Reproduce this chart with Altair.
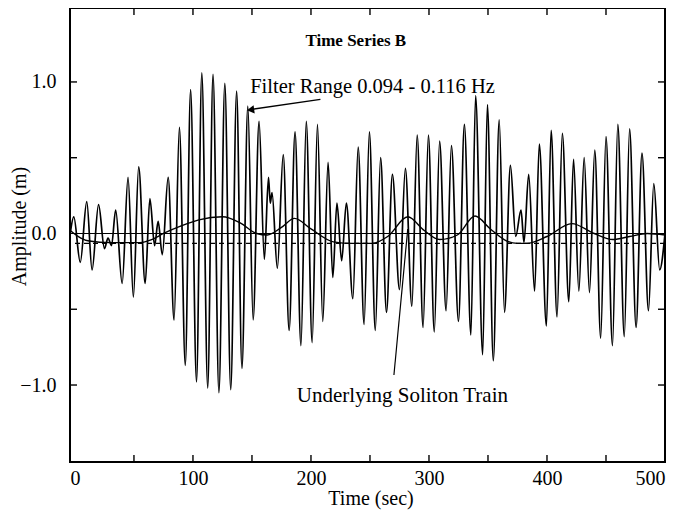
import altair as alt
import pandas as pd

# ---- data ----
# filtered wave record: successive extrema (time s, amplitude m)
wave_t = [-4, -1, 4.5, 10, 14.5, 20, 25, 28, 31, 34.5, 40, 45, 49.5, 54, 59.5, 63.5, 67.5, 70.5,
          74, 79, 84, 88.5, 93.5, 98, 103, 107.5, 112.5, 117, 122, 127, 132, 137, 141.5, 146.5,
          151, 156, 160.5, 164, 165.5, 167, 171.5, 176.5, 181.5, 186.5, 191.5, 196, 201, 205.5,
          210, 214.5, 218.5, 222, 226, 230, 235.5, 240, 245, 249.5, 254.5, 259, 264, 269, 275,
          280, 285.5, 290, 295, 299.5, 304.5, 309, 314.5, 319, 325, 330, 335.5, 339.5, 345.5,
          349.5, 354.5, 359.5, 364, 369, 373.5, 378, 380.5, 384.5, 389.5, 393.5, 399.5, 403.5,
          408.5, 413, 418.5, 422.5, 427, 431.5, 436, 440.5, 445.5, 450, 455.5, 460, 465.5, 470,
          475.5, 480.5, 486, 490.5, 495.5, 500]
wave_v = [0.0, 0.11, -0.19, 0.21, -0.24, 0.19, -0.10, -0.03, -0.08, 0.155, -0.33, 0.37, -0.42, 0.44,
          -0.33, 0.23, -0.08, 0.08, -0.14, 0.37, -0.57, 0.70, -0.87, 0.95, -0.98, 1.06, -1.02,
          1.05, -1.05, 0.99, -1.03, 0.94, -0.89, 0.84, -0.57, 0.74, -0.17, 0.37, 0.20, 0.27,
          -0.23, 0.52, -0.64, 0.67, -0.74, 0.74, -0.72, 0.72, -0.58, 0.47, -0.29, 0.20, -0.18,
          0.20, -0.43, 0.57, -0.60, 0.67, -0.64, 0.50, -0.52, 0.39, -0.37, 0.43, -0.48, 0.65,
          -0.62, 0.65, -0.65, 0.61, -0.51, 0.58, -0.58, 0.72, -0.67, 0.91, -0.80, 0.85, -0.84,
          0.75, -0.52, 0.45, -0.02, 0.155, -0.06, 0.39, -0.38, 0.59, -0.61, 0.68, -0.55, 0.66,
          -0.45, 0.49, -0.38, 0.50, -0.39, 0.55, -0.69, 0.64, -0.74, 0.72, -0.68, 0.69, -0.62,
          0.53, -0.51, 0.33, -0.24, 0.0]

# underlying soliton train
sol_t = [-4, 5, 12, 30, 55, 65, 75, 90, 105, 125, 140, 154, 163, 175, 186, 200, 219, 235, 252,
         265, 282, 296, 309, 324, 339, 352, 366, 375, 383, 400, 421, 440, 456, 470, 485, 500]
sol_v = [0.02, -0.03, -0.05, -0.06, -0.06, -0.04, 0.0, 0.05, 0.09, 0.11, 0.07, 0.0, -0.01, 0.04,
         0.10, 0.03, -0.055, -0.065, -0.065, -0.02, 0.11, 0.02, -0.04, -0.01, 0.115, 0.03,
         -0.05, -0.065, -0.065, -0.02, 0.065, 0.0, -0.04, -0.02, 0.0, -0.01]

mean_level = [0.0]
dashed_level = [-0.065]

x_label_values = [0, 100, 200, 300, 400, 500]
y_label_values = [-1.0, 0.0, 1.0]
x_tick_values = [50, 100, 150, 200, 250, 300, 350, 400, 450]
y_tick_values = [-1.0, -0.5, 0.5, 1.0]

# ---- layout ----
W, H = 595, 454
FONT = "Liberation Serif"
TL = 7  # inward tick length

xs = alt.Scale(domain=[-4.2, 500], nice=False, zero=False)
ys = alt.Scale(domain=[-1.508, 1.488], nice=False, zero=False)

X_AX = alt.Axis(
    values=x_label_values, title="Time (sec)", format="d",
    domain=False, ticks=False, grid=False, labelPadding=6,
    labelFont=FONT, labelFontSize=20, labelColor="black",
    titleFont=FONT, titleFontSize=20, titleFontWeight="normal", titleColor="black",
    titleX=W / 2 + 3, titleY=36, titleBaseline="middle", titleAlign="center")
Y_AX = alt.Axis(
    values=y_label_values, title="Amplitude (m)", format=".1f",
    domain=False, ticks=False, grid=False, labelPadding=14,
    labelFont=FONT, labelFontSize=20, labelColor="black",
    titleFont=FONT, titleFontSize=20, titleFontWeight="normal", titleColor="black",
    titleX=-51, titleY=218, titleAngle=270, titleAlign="center", titleBaseline="middle")


def X(field="t"):
    return alt.X(f"{field}:Q", scale=xs, axis=X_AX)


def Y(field="v"):
    return alt.Y(f"{field}:Q", scale=ys, axis=Y_AX)


wave = alt.Chart(pd.DataFrame({"t": wave_t, "v": wave_v})).mark_line(
    color="black", strokeWidth=1.7, interpolate="monotone"
).encode(x=X(), y=Y())

soliton = alt.Chart(pd.DataFrame({"t": sol_t, "v": sol_v})).mark_line(
    color="black", strokeWidth=1.4, interpolate="monotone"
).encode(x=X(), y=Y())

mean_rule = alt.Chart(pd.DataFrame({"v": mean_level})).mark_rule(
    color="black", strokeWidth=1.2
).encode(y=Y())

dash_rule = alt.Chart(pd.DataFrame({"v": dashed_level})).mark_rule(
    color="black", strokeWidth=1.2, strokeDash=[5, 4]
).encode(y=Y())

xt = pd.DataFrame({"t": x_tick_values})
yt = pd.DataFrame({"v": y_tick_values})
tick_style = dict(color="black", strokeWidth=1.4)
ticks_bottom = alt.Chart(xt).mark_rule(**tick_style).encode(
    x=X(), y=alt.value(H), y2=alt.value(H - TL))
ticks_top = alt.Chart(xt).mark_rule(**tick_style).encode(
    x=X(), y=alt.value(0), y2=alt.value(TL))
ticks_left = alt.Chart(yt).mark_rule(**tick_style).encode(
    y=Y(), x=alt.value(0), x2=alt.value(TL))
ticks_right = alt.Chart(yt).mark_rule(**tick_style).encode(
    y=Y(), x=alt.value(W), x2=alt.value(W - TL))

# annotations (positions in data units)
title_txt = alt.Chart(pd.DataFrame({"t": [238], "v": [1.24], "s": ["Time Series B"]})).mark_text(
    font=FONT, fontSize=17, fontWeight="bold", color="black", align="center", baseline="alphabetic"
).encode(x=X(), y=Y(), text="s:N")

filter_txt = alt.Chart(pd.DataFrame({"t": [148.5], "v": [0.925],
                                     "s": ["Filter Range 0.094 - 0.116 Hz"]})).mark_text(
    font=FONT, fontSize=20.5, color="black", align="left", baseline="alphabetic"
).encode(x=X(), y=Y(), text="s:N")

sol_txt = alt.Chart(pd.DataFrame({"t": [188], "v": [-1.115],
                                  "s": ["Underlying Soliton Train"]})).mark_text(
    font=FONT, fontSize=21, color="black", align="left", baseline="alphabetic"
).encode(x=X(), y=Y(), text="s:N")

arrow_line = alt.Chart(pd.DataFrame({"t": [208.0], "v": [0.885], "t2": [149.0], "v2": [0.818]})).mark_rule(
    color="black", strokeWidth=1.4
).encode(x=X(), y=Y(), x2="t2:Q", y2="v2:Q")
arrow_head = alt.Chart(pd.DataFrame({"t": [148.8], "v": [0.816]})).mark_point(
    shape="triangle-left", filled=True, color="black", size=70, angle=352, opacity=1
).encode(x=X(), y=Y())

pointer = alt.Chart(pd.DataFrame({"t": [270.3], "v": [-0.934], "t2": [282.0], "v2": [0.03]})).mark_rule(
    color="black", strokeWidth=1.2
).encode(x=X(), y=Y(), x2="t2:Q", y2="v2:Q")

chart = alt.layer(
    wave, soliton, mean_rule, dash_rule,
    ticks_bottom, ticks_top, ticks_left, ticks_right,
    title_txt, filter_txt, sol_txt, arrow_line, arrow_head, pointer
).properties(
    width=W, height=H,
    autosize=alt.AutoSizeParams(type="none"),
    padding={"left": 62, "top": 0, "right": 10, "bottom": 49},
    background="white",
).configure_view(stroke="black", strokeWidth=2)

chart.save("out.html", embed_options={"renderer": "svg", "actions": False})
